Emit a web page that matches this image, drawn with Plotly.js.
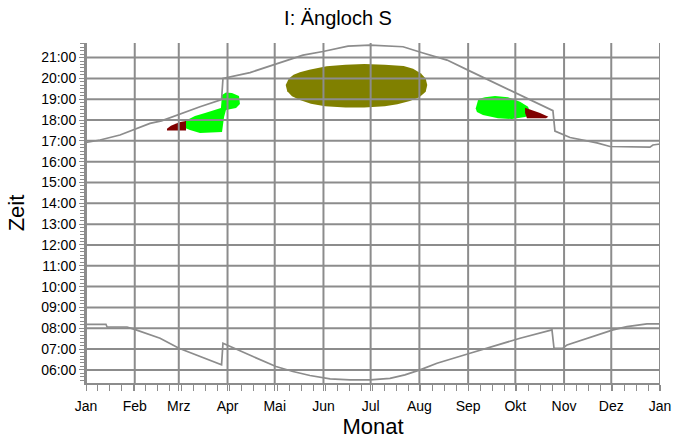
<!DOCTYPE html>
<html><head><meta charset="utf-8">
<script src="https://cdn.plot.ly/plotly-3.0.1.min.js"></script>
<style>html,body{margin:0;padding:0;background:#fff}</style>
</head><body><div id="chart" style="width:676px;height:439px"></div>
<script>
// Month ticks (day of year) and labels
const monthTickDays = [0,31,59,90,120,151,181,212,243,273,304,334,365];
const monthLabels = ['Jan','Feb','Mrz','Apr','Mai','Jun','Jul','Aug','Sep','Okt','Nov','Dez','Jan'];
// Hour ticks and labels
const hourTicks = [6,7,8,9,10,11,12,13,14,15,16,17,18,19,20,21];
const hourLabels = ['06:00','07:00','08:00','09:00','10:00','11:00','12:00','13:00','14:00','15:00','16:00','17:00','18:00','19:00','20:00','21:00'];

// Upper boundary (sunset behind horizon)
const sunsetDay  = [0,8.9,21.6,40.7,48,59.8,72.5,86.2,87.1,104.3,117,129.7,138,150.7,166.6,180.6,201.6,214.3,229.6,244.2,260.1,276,296.9,298.2,307.8,324.9,333.2,358.6,360.5,365];
const sunsetHour = [16.92,17.04,17.28,17.84,17.96,18.30,18.64,18.98,20.00,20.28,20.59,20.93,21.12,21.29,21.55,21.60,21.52,21.22,20.88,20.35,19.78,19.20,18.45,17.47,17.16,16.90,16.73,16.70,16.80,16.85];

// Lower boundary (sunrise)
const sunriseDay  = [0,12.7,13.4,26.1,31.8,47.1,59.1,72.5,86.2,87.1,91.6,106.2,120.8,131.6,142.4,155.2,167.9,180.6,193.3,202.8,212.4,223.2,244.2,276,296.3,297.6,303.3,305.9,335.1,344,356.7,365];
const sunriseHour = [8.19,8.19,8.06,8.06,7.92,7.52,7.04,6.64,6.24,7.28,7.12,6.64,6.16,5.92,5.73,5.57,5.52,5.52,5.59,5.76,6.00,6.32,6.80,7.52,7.92,7.04,7.04,7.20,7.92,8.08,8.21,8.21];

// Summer region (olive)
const summerDay  = [127,129,132,136,142,153,165,177,190,202,208,213,216,217,216,212,206,198,190,177,165,152,143,136,131,128,127];
const summerHour = [19.68,20.00,20.18,20.30,20.42,20.58,20.66,20.69,20.66,20.59,20.46,20.24,20.00,19.68,19.36,19.10,18.92,18.76,18.66,18.60,18.60,18.66,18.78,18.96,19.14,19.38,19.68];

// Spring regions
const springGreenDay  = [63,69.3,75.7,82,85.8,86.5,89,92.8,97.3,97.9,95.4,89,87.8,86.5,72.5,66.1,63,63];
const springGreenHour = [17.95,18.19,18.34,18.48,18.58,19.20,19.32,19.30,19.15,18.77,18.58,18.48,18.14,17.42,17.38,17.52,17.62,17.95];
const springRedDay  = [51.5,54,57,60,63.6,63.6,51.5,51.5];
const springRedHour = [17.58,17.72,17.82,17.90,17.95,17.50,17.50,17.58];

// Autumn regions
const autumnGreenDay  = [247.8,249.5,253.7,260.1,268.3,276,281.1,282.3,282.3,279.2,270.9,262,252.4,248.6,247.8];
const autumnGreenHour = [18.56,19.01,19.10,19.15,19.09,18.88,18.64,18.38,18.24,18.14,18.05,18.08,18.24,18.38,18.56];
const autumnRedDay  = [279.2,283.6,288.7,294,292.5,280.4,279.2,279.2];
const autumnRedHour = [18.59,18.48,18.34,18.16,18.08,18.08,18.34,18.59];

const FONT = '"Liberation Sans", Arial, sans-serif';
const GRID = '#8c8c8c';

function region(x, y, color) {
  return {x: x, y: y, type: 'scatter', mode: 'lines', fill: 'toself',
          fillcolor: color, line: {width: 0, color: color}, hoverinfo: 'skip', showlegend: false};
}
const traces = [
  region(summerDay, summerHour, '#808000'),
  region(springGreenDay, springGreenHour, '#00ff00'),
  region(springRedDay, springRedHour, '#800000'),
  region(autumnGreenDay, autumnGreenHour, '#00ff00'),
  region(autumnRedDay, autumnRedHour, '#800000'),
  {x: sunsetDay, y: sunsetHour, type: 'scatter', mode: 'lines', line: {color: '#8c8c8c', width: 1.7}, showlegend: false},
  {x: sunriseDay, y: sunriseHour, type: 'scatter', mode: 'lines', line: {color: '#8c8c8c', width: 1.7}, showlegend: false}
];

// grid lines drawn above the regions, built from tick arrays
const shapes = [];
monthTickDays.forEach(d => shapes.push({type: 'line', xref: 'x', yref: 'y domain', x0: d, x1: d, y0: 0, y1: 1, layer: 'above', line: {color: GRID, width: 2}}));
hourTicks.forEach(h => shapes.push({type: 'line', xref: 'x domain', yref: 'y', x0: 0, x1: 1, y0: h, y1: h, layer: 'above', line: {color: GRID, width: 2}}));

const layout = {
  width: 676, height: 439,
  margin: {l: 86, r: 16, t: 43, b: 56},
  paper_bgcolor: '#ffffff', plot_bgcolor: '#ffffff',
  font: {family: FONT, color: '#000000', size: 14},
  title: {text: 'I: Ängloch S', x: 0.5, xanchor: 'center', y: 0.958, yanchor: 'middle', font: {family: FONT, size: 20, color: '#000'}},
  showlegend: false,
  xaxis: {
    range: [0, 365], tickmode: 'array', tickvals: monthTickDays, ticktext: monthLabels,
    showgrid: false, zeroline: false, showline: true, linecolor: GRID, linewidth: 2,
    ticks: 'outside', ticklen: 6, tickwidth: 1, tickcolor: GRID, ticklabelstandoff: 3,
    tickfont: {family: FONT, size: 14, color: '#000'},
    minor: {ticks: 'outside', tick0: 0, dtick: 7.604, ticklen: 6, tickwidth: 1, tickcolor: GRID, showgrid: false},
    title: {text: 'Monat', font: {family: FONT, size: 22, color: '#000'}, standoff: 6},
    fixedrange: true
  },
  yaxis: {
    range: [5.37, 21.7], tickmode: 'array', tickvals: hourTicks, ticktext: hourLabels,
    showgrid: false, zeroline: false, showline: true, linecolor: GRID, linewidth: 2,
    ticks: 'outside', ticklen: 5, tickwidth: 1, tickcolor: GRID,
    tickfont: {family: FONT, size: 14, color: '#000'},
    minor: {ticks: 'outside', tick0: 0, dtick: 1/6, ticklen: 4, tickwidth: 1, tickcolor: GRID, showgrid: false},
    title: {text: 'Zeit', font: {family: FONT, size: 22, color: '#000'}, standoff: 10},
    fixedrange: true
  },
  shapes: shapes
};
Plotly.newPlot('chart', traces, layout, {displayModeBar: false, staticPlot: true});
</script></body></html>
